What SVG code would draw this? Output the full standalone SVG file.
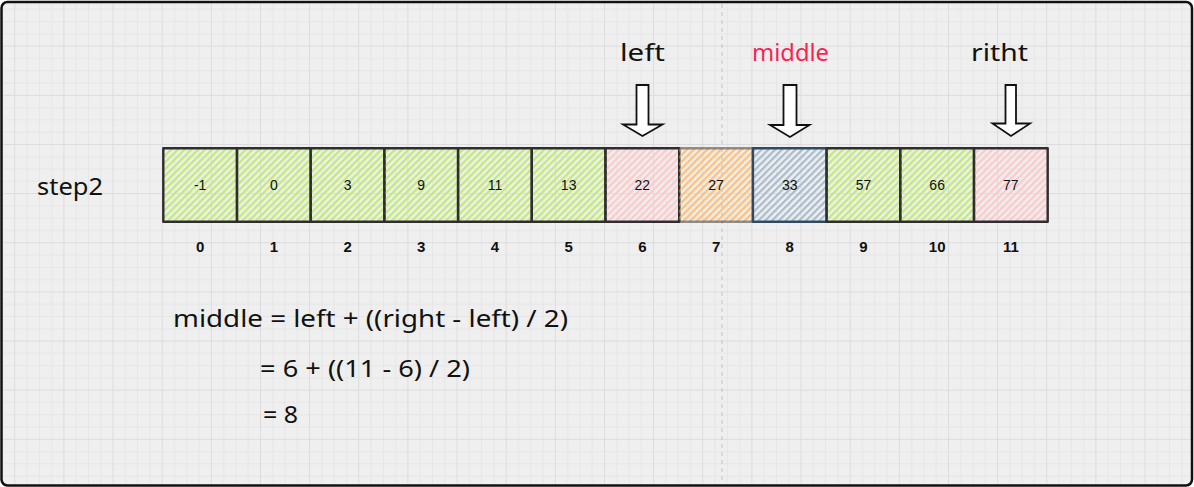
<svg xmlns="http://www.w3.org/2000/svg" width="1194" height="487" viewBox="0 0 1194 487">
  <defs>
    <pattern id="grid" patternUnits="userSpaceOnUse" x="14.3" y="45.7" width="49.14" height="49.14">
      <rect x="12.28" y="0" width="1" height="49.14" fill="#e6e6e6"/>
      <rect x="24.57" y="0" width="1" height="49.14" fill="#e6e6e6"/>
      <rect x="36.85" y="0" width="1" height="49.14" fill="#e6e6e6"/>
      <rect x="0" y="12.28" width="49.14" height="1" fill="#e6e6e6"/>
      <rect x="0" y="24.57" width="49.14" height="1" fill="#e6e6e6"/>
      <rect x="0" y="36.85" width="49.14" height="1" fill="#e6e6e6"/>
      <rect x="0" y="0" width="1" height="49.14" fill="#dcdcdc"/>
      <rect x="0" y="0" width="49.14" height="1" fill="#dcdcdc"/>
    </pattern>
    <pattern id="hGreen" patternUnits="userSpaceOnUse" width="4.8" height="4.8" patternTransform="rotate(45)">
      <rect x="0" y="0" width="2.2" height="4.8" fill="#c0eb75"/>
    </pattern>
    <pattern id="hPink" patternUnits="userSpaceOnUse" width="4.8" height="4.8" patternTransform="rotate(45)">
      <rect x="0" y="0" width="2.2" height="4.8" fill="#ffc9c9"/>
    </pattern>
    <pattern id="hOrange" patternUnits="userSpaceOnUse" width="4.8" height="4.8" patternTransform="rotate(45)">
      <rect x="0" y="0" width="2.2" height="4.8" fill="#ffc078"/>
    </pattern>
    <pattern id="hBlue" patternUnits="userSpaceOnUse" width="4.8" height="4.8" patternTransform="rotate(45)">
      <rect x="0" y="0" width="2.2" height="4.8" fill="#a9bccd"/>
    </pattern>
    <style>
      .cell { stroke: #2e2e2e; stroke-width: 2.4; stroke-linejoin: round; }
      .val { font-family: "Liberation Sans", Arial, sans-serif; font-size: 14px; fill: #111; text-anchor: middle; }
      .idx { font-family: "Liberation Sans", Arial, sans-serif; font-size: 15px; font-weight: bold; fill: #111; text-anchor: middle; }
      .hand { font-family: "Noto Sans", sans-serif; font-size: 23px; fill: #111; }
      .arrow { fill: #fff; stroke: #111; stroke-width: 1.8; stroke-linejoin: miter; }
    </style>
  </defs>

  <rect x="0" y="0" width="1194" height="487" fill="#fff"/>
  <rect x="1.5" y="2" width="1190.5" height="483.5" rx="6" fill="#efefef"/>
  <rect x="1.5" y="2" width="1190.5" height="483.5" rx="6" fill="url(#grid)"/>
  <line x1="722" y1="4" x2="722" y2="484" stroke="#c8c8c8" stroke-width="1.2" stroke-dasharray="4 4"/>

  <g id="step-label"><text class="hand" x="37" y="195" textLength="66" lengthAdjust="spacingAndGlyphs">step2</text></g>

  <g id="cell-0"><rect class="cell" x="163.3" y="148.3" width="73.7" height="73.4" fill="url(#hGreen)"/><text class="val" x="200.15" y="190">-1</text></g>
  <g id="cell-1"><rect class="cell" x="237.0" y="148.3" width="73.7" height="73.4" fill="url(#hGreen)"/><text class="val" x="273.85" y="190">0</text></g>
  <g id="cell-2"><rect class="cell" x="310.7" y="148.3" width="73.7" height="73.4" fill="url(#hGreen)"/><text class="val" x="347.55" y="190">3</text></g>
  <g id="cell-3"><rect class="cell" x="384.4" y="148.3" width="73.7" height="73.4" fill="url(#hGreen)"/><text class="val" x="421.25" y="190">9</text></g>
  <g id="cell-4"><rect class="cell" x="458.1" y="148.3" width="73.7" height="73.4" fill="url(#hGreen)"/><text class="val" x="494.95" y="190">11</text></g>
  <g id="cell-5"><rect class="cell" x="531.8" y="148.3" width="73.7" height="73.4" fill="url(#hGreen)"/><text class="val" x="568.65" y="190">13</text></g>
  <g id="cell-6"><rect class="cell" x="605.5" y="148.3" width="73.7" height="73.4" fill="url(#hPink)"/><text class="val" x="642.35" y="190">22</text></g>
  <g id="cell-7"><rect class="cell" x="679.2" y="148.3" width="73.7" height="73.4" fill="url(#hOrange)" stroke-opacity="0.5"/><text class="val" x="716.05" y="190">27</text></g>
  <g id="cell-8"><rect class="cell" x="752.9" y="148.3" width="73.7" height="73.4" fill="url(#hBlue)" style="stroke:#2f4a62"/><text class="val" x="789.75" y="190">33</text></g>
  <g id="cell-9"><rect class="cell" x="826.6" y="148.3" width="73.7" height="73.4" fill="url(#hGreen)"/><text class="val" x="863.45" y="190">57</text></g>
  <g id="cell-10"><rect class="cell" x="900.3" y="148.3" width="73.7" height="73.4" fill="url(#hGreen)"/><text class="val" x="937.15" y="190">66</text></g>
  <g id="cell-11"><rect class="cell" x="974.0" y="148.3" width="73.7" height="73.4" fill="url(#hPink)"/><text class="val" x="1010.85" y="190">77</text></g>

  <g id="indices">
    <text class="idx" x="200.15" y="252">0</text>
    <text class="idx" x="273.85" y="252">1</text>
    <text class="idx" x="347.55" y="252">2</text>
    <text class="idx" x="421.25" y="252">3</text>
    <text class="idx" x="494.95" y="252">4</text>
    <text class="idx" x="568.65" y="252">5</text>
    <text class="idx" x="642.35" y="252">6</text>
    <text class="idx" x="716.05" y="252">7</text>
    <text class="idx" x="789.75" y="252">8</text>
    <text class="idx" x="863.45" y="252">9</text>
    <text class="idx" x="937.15" y="252">10</text>
    <text class="idx" x="1010.85" y="252">11</text>
  </g>

  <g id="pointer-left">
    <text class="hand" x="620" y="61" textLength="45" lengthAdjust="spacingAndGlyphs">left</text>
    <path class="arrow" d="M636.5,85 L648.5,85 L648.5,124.5 L662.5,124.5 L642.5,136 L623,124.5 L636.5,124.5 Z"/>
  </g>
  <g id="pointer-middle">
    <text class="hand" x="752" y="61" textLength="77" lengthAdjust="spacingAndGlyphs" style="fill:#ff1f4f">middle</text>
    <path class="arrow" d="M783.5,85 L796.5,85 L796.5,125 L809.5,125 L790,137 L770,125 L783.5,125 Z"/>
  </g>
  <g id="pointer-right">
    <text class="hand" x="971" y="61" textLength="57" lengthAdjust="spacingAndGlyphs">ritht</text>
    <path class="arrow" d="M1005.5,85 L1016,85 L1016,123.5 L1030,123.5 L1011,136 L992.5,123.5 L1005.5,123.5 Z"/>
  </g>

  <g id="formula">
    <text class="hand" x="173" y="327" textLength="395" lengthAdjust="spacingAndGlyphs">middle = left + ((right - left) / 2)</text>
    <text class="hand" x="260" y="377" textLength="210" lengthAdjust="spacingAndGlyphs">= 6 + ((11 - 6) / 2)</text>
    <text class="hand" x="263" y="423" textLength="35" lengthAdjust="spacingAndGlyphs">= 8</text>
  </g>

  <rect x="1.5" y="2" width="1190.5" height="483.5" rx="6" fill="none" stroke="#111" stroke-width="2.5"/>
</svg>
